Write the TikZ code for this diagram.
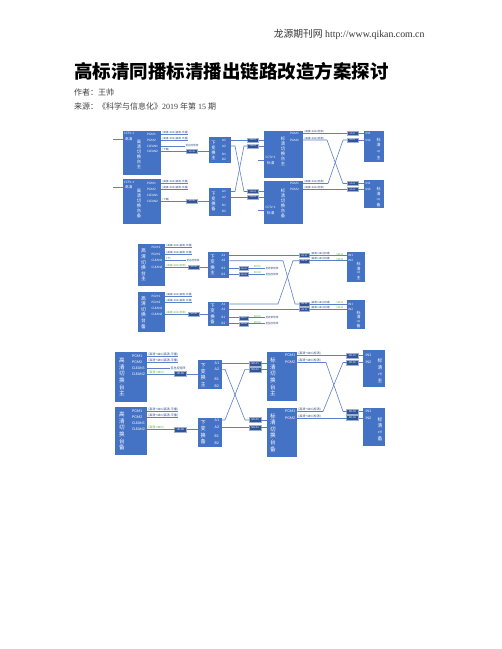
\documentclass[tikz,border=0pt]{standalone}
\usepackage{fontspec}
\setmainfont{Liberation Serif}
\newfontfamily\cjk{Noto Sans CJK SC}
\newfontfamily\lat{Carlito}
\definecolor{boxc}{HTML}{4472C4}
\definecolor{sbc}{HTML}{2F5597}
\definecolor{lnc}{HTML}{5B80C8}
\definecolor{txc}{HTML}{2E4A86}
\definecolor{grn}{HTML}{6AAA40}
\newcommand\mkbox[5]{%
  \pgfmathsetmacro\mkbw{#4-#2}%
  \pgfmathsetmacro\mkbh{#5-#3}%
  \node[bbox,minimum width=\mkbw pt,minimum height=\mkbh pt,anchor=north west] (#1) at (#2,#3) {};}
\tikzset{
 bbox/.style={fill=boxc,inner sep=0pt,outer sep=0pt},
 sbx/.style={fill=sbc,draw=white!55!sbc,line width=0.2pt,text=white,font=\lat\fontsize{2.3}{2.5}\selectfont,minimum width=11pt,minimum height=4pt,inner sep=0pt,outer sep=0pt},
 sbx3/.style={sbx,minimum width=12pt,minimum height=5pt,font=\lat\fontsize{2.8}{3}\selectfont},
 vt/.style={text=white,font=\cjk\fontsize{4.3}{5}\selectfont,align=center,inner sep=0pt},
 vtw/.style={text=white,font=\cjk\fontsize{3.6}{4}\selectfont,inner sep=0pt,anchor=west},
 tn/.style={text=white,font=\cjk\fontsize{2.4}{3}\selectfont,inner sep=0pt},
 pl/.style={text=white,font=\lat\fontsize{3.4}{4}\selectfont,inner sep=0pt,anchor=west},
 pl3/.style={pl,font=\lat\fontsize{4}{4.5}\selectfont},
 ln/.style={draw=lnc,line width=0.6pt},
 ll/.style={text=txc,font=\cjk\fontsize{2.6}{3}\selectfont,inner sep=0.2pt,anchor=south west},
 ll3/.style={ll,font=\cjk\fontsize{3}{3.4}\selectfont},
 gl/.style={ll,text=grn},
 gl3/.style={ll3,text=grn},
 et/.style={text=txc,font=\cjk\fontsize{2.6}{3}\selectfont,inner sep=0.3pt,anchor=west},
 et3/.style={et,font=\cjk\fontsize{3}{3.4}\selectfont},
}
\begin{document}
\begin{tikzpicture}[x=1pt,y=-1pt]
\useasboundingbox (0,0) rectangle (502,649);
\fill[white] (0,0) rectangle (502,649);

% ---------- page text ----------
\node[anchor=base east,font=\fontsize{9.8}{11}\selectfont,text=black!80] (hdr) at (428,37.5) {{\cjk 龙源期刊网} http://www.qikan.com.cn};
\node[anchor=base west,font=\cjk\bfseries\fontsize{18.5}{20}\selectfont,inner sep=0pt] (ttl) at (74,78.5) {高标清同播标清播出链路改造方案探讨};
\node[anchor=base west,font=\fontsize{8}{9}\selectfont,inner sep=0pt,text=black!75] (au) at (74,95.5) {{\cjk 作者：王帅}};
\node[anchor=base west,font=\fontsize{8}{9}\selectfont,inner sep=0pt,text=black!75] (src) at (74,109.5) {{\cjk 来源：《科学与信息化》}2019 {\cjk 年第} 15 {\cjk 期}};

% ================= Diagram 1 =================
\mkbox{hzA}{123}{131}{161}{175}
\node[pl] (hzAcc) at (124,133.2) {CCTV-1};
\node[vtw] (hzAhd) at (125,139) {高清};
\node[vt] (hzAv) at (139,154) {高\\清\\切\\换\\台\\主};
\node[pl] (hzAp1) at (147,134) {PGM1};
\node[pl] (hzAp2) at (147,140) {PGM2};
\node[pl] (hzAp3) at (147,146) {CLEAN1};
\node[pl] (hzAp4) at (147,151.5) {CLEAN2};

\mkbox{hzB}{123}{179}{161}{224}
\node[pl] (hzBcc) at (124,182) {CCTV-1};
\node[vtw] (hzBhd) at (125,187.5) {高清};
\node[vt] (hzBv) at (139,203) {高\\清\\切\\换\\台\\备};
\node[pl] (hzBp1) at (147,183) {PGM1};
\node[pl] (hzBp2) at (147,189) {PGM2};
\node[pl] (hzBp3) at (147,195) {CLEAN1};
\node[pl] (hzBp4) at (147,201) {CLEAN2};

\mkbox{xbA}{208.7}{137.3}{230.7}{163.3}
\node[vt] (xbAv) at (213.5,150.3) {下\\变\\换\\主};
\node[pl] (xbAa1) at (222,140) {A1};
\node[pl] (xbAa2) at (222,146) {A2};
\node[pl] (xbAb1) at (222,154) {B1};
\node[pl] (xbAb2) at (222,159.5) {B2};

\mkbox{xbB}{208.7}{188.3}{230.7}{215.7}
\node[vt] (xbBv) at (213.5,202) {下\\变\\换\\备};
\node[pl] (xbBa1) at (222,191.5) {A1};
\node[pl] (xbBa2) at (222,197) {A2};
\node[pl] (xbBb1) at (222,205.5) {B1};
\node[pl] (xbBb2) at (222,211.5) {B2};

\node[sbx] (sbA) at (192,151.5) {HD-SD};
\node[sbx] (sbB) at (192,201) {HD-SD};
\node[sbx] (sA1) at (253,140) {SDI-01};
\node[sbx] (sA2) at (253,146) {SDI-02};
\node[sbx] (sA3) at (253,191.5) {SDI-03};
\node[sbx] (sA4) at (253,197) {SDI-04};

\mkbox{bzA}{264}{131}{303}{178}
\node[vt] (bzAv) at (283,151) {标\\清\\切\\换\\台\\主};
\node[pl] (bzAp1) at (290,133.5) {PGM1};
\node[pl] (bzAp2) at (290,140) {PGM2};
\node[pl] (bzAcc) at (265.5,157) {CCTV-1};
\node[vtw] (bzAhd) at (267,162.8) {标清};

\mkbox{bzB}{264}{181}{303}{224}
\node[vt] (bzBv) at (283,203) {标\\清\\切\\换\\台\\备};
\node[pl] (bzBp1) at (290,183.5) {PGM1};
\node[pl] (bzBp2) at (290,189.5) {PGM2};
\node[pl] (bzBcc) at (265.5,207) {CCTV-1};
\node[vtw] (bzBhd) at (267,212.8) {标清};

\node[sbx] (gA1) at (352.5,133.5) {SD-01};
\node[sbx] (gA2) at (352.5,140) {SD-02};
\node[sbx] (gA3) at (352.5,183.5) {SD-03};
\node[sbx] (gA4) at (352.5,189.5) {SD-04};

\mkbox{bqA}{364}{131}{384}{162}
\node[pl] (bqAi1) at (365.5,133.5) {IN1};
\node[pl] (bqAi2) at (365.5,140) {IN2};
\node[vt,font=\cjk\fontsize{4}{4.6}\selectfont] (bqAv) at (378.5,142.5) {标\\清};
\node[tn] (bqAn) at (378.5,151.5) {1号};
\node[vt,font=\cjk\fontsize{4}{4.6}\selectfont] (bqAz) at (378.5,157.5) {主};

\mkbox{bqB}{364}{180}{384}{208}
\node[pl] (bqBi1) at (365.5,183.5) {IN1};
\node[pl] (bqBi2) at (365.5,189.5) {IN2};
\node[vt,font=\cjk\fontsize{4}{4.6}\selectfont] (bqBv) at (378.5,191.5) {标\\清};
\node[tn] (bqBn) at (378.5,199.5) {2号};
\node[vt,font=\cjk\fontsize{4}{4.6}\selectfont] (bqBz) at (378.5,205) {备};

% labels diagram 1
\node[ll] (hzAl1) at (162,134) {(高清+480i(高清-平播)};
\node[ll] (hzAl2) at (162,140) {(高清+480i(高清-平播)};
\node[et] (hzAl3) at (185,146) {至总控矩阵};
\node[ll] (hzAl4) at (162,151.5) {(下载)};
\node[ll] (hzBl1) at (162,183) {(高清+480i(高清-平播)};
\node[ll] (hzBl2) at (162,189) {(高清+480i(高清-平播)};
\node[ll] (hzBl4) at (162,201) {(下载)};
\node[ll] (bzAl1) at (304,133.5) {(高清+480i(标清)};
\node[ll] (bzAl2) at (304,140) {(高清+480i(标清)};
\node[ll] (bzBl1) at (304,183.5) {(高清+480i(标清)};
\node[ll] (bzBl2) at (304,189.5) {(高清+480i(标清)};

\coordinate (inA) at (113,139);
\coordinate (inB) at (113,187.5);
\coordinate (inC) at (258,160);
\coordinate (inD) at (258,210);
\draw[ln] (inA) -- (hzA.west |- hzAhd);
\draw[ln] (inB) -- (hzB.west |- hzBhd);
\draw[ln] (inC) -- (bzA.west |- inC);
\draw[ln] (inD) -- (bzB.west |- inD);
\draw[ln] (hzA.east |- hzAp1) -- (hzAl1.south east);
\draw[ln] (hzA.east |- hzAp2) -- (hzAl2.south east);
\draw[ln] (hzA.east |- hzAp3) -- (hzAl3.west);
\draw[ln] (hzA.east |- hzAp4) -- (sbA) -- (xbA.west |- sbA);
\draw[ln] (hzB.east |- hzBp1) -- (hzBl1.south east);
\draw[ln] (hzB.east |- hzBp2) -- (hzBl2.south east);
\draw[ln] (hzB.east |- hzBp4) -- (sbB) -- (xbB.west |- sbB);
\draw[ln] (xbA.east |- xbAa1) -- (sA1);
\draw[ln] (xbA.east |- xbAa2) -- (235,146) -- (244,191.5) -- (sA3);
\draw[ln] (xbB.east |- xbBa1) -- (235,191.5) -- (244,146) -- (sA2);
\draw[ln] (xbB.east |- xbBa2) -- (sA4);
\draw[ln] (sA1) -- (bzA.west |- sA1);
\draw[ln] (sA2) -- (bzA.west |- sA2);
\draw[ln] (sA3) -- (bzB.west |- sA3);
\draw[ln] (sA4) -- (bzB.west |- sA4);
\draw[ln] (bzA.east |- bzAp1) -- (gA1);
\draw[ln] (bzA.east |- bzAp2) -- (327,140) -- (343,183.5) -- (gA3);
\draw[ln] (bzB.east |- bzBp1) -- (328,183.5) -- (343,140) -- (gA2);
\draw[ln] (bzB.east |- bzBp2) -- (gA4);
\draw[ln] (gA1) -- (bqA.west |- gA1);
\draw[ln] (gA2) -- (bqA.west |- gA2);
\draw[ln] (gA3) -- (bqB.west |- gA3);
\draw[ln] (gA4) -- (bqB.west |- gA4);

% ================= Diagram 2 =================
\mkbox{hzC}{138.3}{244.3}{165}{285.7}
\node[vt,font=\cjk\fontsize{4.8}{5.6}\selectfont] (hzCv) at (143.5,265) {高\\清\\切\\换\\台\\主};
\node[pl] (hzCp1) at (151.5,247.5) {PGM1};
\node[pl] (hzCp2) at (151.5,254) {PGM2};
\node[pl] (hzCp3) at (151.5,260.7) {CLEAN1};
\node[pl] (hzCp4) at (151.5,267) {CLEAN2};

\mkbox{hzD}{138.3}{292.3}{165}{332.3}
\node[vt,font=\cjk\fontsize{4.8}{5.6}\selectfont] (hzDv) at (143.5,312.3) {高\\清\\切\\换\\台\\备};
\node[pl] (hzDp1) at (151.5,296) {PGM1};
\node[pl] (hzDp2) at (151.5,302) {PGM2};
\node[pl] (hzDp3) at (151.5,308.3) {CLEAN1};
\node[pl] (hzDp4) at (151.5,314) {CLEAN2};

\mkbox{xbC}{207.7}{252.3}{229.3}{277.7}
\node[vt,font=\cjk\fontsize{4.5}{5.5}\selectfont] (xbCv) at (212.5,265) {下\\变\\换\\主};
\node[pl] (xbCa1) at (221.5,255.5) {A1};
\node[pl] (xbCa2) at (221.5,260.7) {A2};
\node[pl] (xbCb1) at (221.5,268.3) {B1};
\node[pl] (xbCb2) at (221.5,274.3) {B2};

\mkbox{xbD}{207.7}{301.7}{229.3}{325.7}
\node[vt,font=\cjk\fontsize{4.5}{5.5}\selectfont] (xbDv) at (212.5,313.7) {下\\变\\换\\备};
\node[pl] (xbDa1) at (221.5,304) {A1};
\node[pl] (xbDa2) at (221.5,309.3) {A2};
\node[pl] (xbDb1) at (221.5,317.7) {B1};
\node[pl] (xbDb2) at (221.5,323.7) {B2};

\node[sbx] (sbC) at (194,267) {HD-SD};
\node[sbx] (sbD) at (194,314) {HD-SD};
\node[sbx,minimum width=9pt] (sC5) at (243.8,268.3) {SDI-05};
\node[sbx,minimum width=9pt] (sC6) at (243.8,274.3) {SDI-06};
\node[sbx,minimum width=9pt] (sD5) at (243.8,317.7) {SDI-07};
\node[sbx,minimum width=9pt] (sD6) at (243.8,323.7) {SDI-08};
\node[sbx,minimum width=10pt] (sC1) at (304.3,255.5) {SDI-01};
\node[sbx,minimum width=10pt] (sC2) at (304.3,260.7) {SDI-02};
\node[sbx,minimum width=10pt] (sC3) at (304.3,304) {SDI-03};
\node[sbx,minimum width=10pt] (sC4) at (304.3,309.3) {SDI-04};

\mkbox{bqC}{346.7}{252.3}{365.3}{281.7}
\node[pl] (bqCi1) at (348,255.5) {IN1};
\node[pl] (bqCi2) at (348,260.7) {IN2};
\node[vt,font=\cjk\fontsize{4}{4.5}\selectfont] (bqCv) at (358.5,266.5) {标\\清};
\node[tn] (bqCn) at (358.5,273) {1号};
\node[vt,font=\cjk\fontsize{4}{4.5}\selectfont] (bqCz) at (358.5,277.7) {主};

\mkbox{bqD}{346.7}{300}{365.3}{329}
\node[pl] (bqDi1) at (348,304) {IN1};
\node[pl] (bqDi2) at (348,309.3) {IN2};
\node[vt,font=\cjk\fontsize{4}{4.5}\selectfont] (bqDv) at (358.5,315.2) {标\\清};
\node[tn] (bqDn) at (358.5,321.7) {2号};
\node[vt,font=\cjk\fontsize{4}{4.5}\selectfont] (bqDz) at (358.5,326.2) {备};

% labels diagram 2
\node[ll] (hzCl1) at (166,247.5) {(高清+480i(高清-平播)};
\node[ll] (hzCl2) at (166,254) {(高清+480i(高清-平播)};
\node[ll] (hzCl3a) at (166,260.7) {(下)};
\node[et] (hzCl3) at (186,260.7) {至总控矩阵};
\node[gl] (hzCl4) at (166,267) {(高清+480i(标清)};
\node[ll] (hzDl1) at (166,296) {(高清+480i(高清-平播)};
\node[ll] (hzDl2) at (166,302) {(高清+480i(高清-平播)};
\node[gl] (hzDl4) at (166,314) {(高清+480i(标清)};
\node[gl] (gC5) at (253.5,268.3) {SDI01};
\node[gl] (gC6) at (253.5,274.3) {SDI02};
\node[gl] (gD5) at (253.5,317.7) {SDI01};
\node[gl] (gD6) at (253.5,323.7) {SDI02};
\node[et] (eC5) at (265,268.3) {至收录矩阵};
\node[et] (eC6) at (265,274.3) {至监控矩阵};
\node[et] (eD5) at (265,317.7) {至收录矩阵};
\node[et] (eD6) at (265,323.7) {至监控矩阵};
\node[ll] (tC1l) at (310.5,255.5) {(高清+480i(标清)};
\node[ll] (tC2l) at (310.5,260.7) {(高清+480i(标清)};
\node[ll] (tC3l) at (310.5,304) {(高清+480i(标清)};
\node[ll] (tC4l) at (310.5,309.3) {(高清+480i(标清)};
\node[gl] (tC1g) at (336,255.5) {SDI01};
\node[gl] (tC2g) at (336,260.7) {SDI02};
\node[gl] (tC3g) at (336,304) {SDI01};
\node[gl] (tC4g) at (336,309.3) {SDI02};

\draw[ln] (hzC.east |- hzCp1) -- (hzCl1.south east);
\draw[ln] (hzC.east |- hzCp2) -- (hzCl2.south east);
\draw[ln] (hzC.east |- hzCp3) -- (hzCl3.west);
\draw[ln] (hzC.east |- hzCp4) -- (sbC) -- (xbC.west |- sbC);
\draw[ln] (hzD.east |- hzDp1) -- (hzDl1.south east);
\draw[ln] (hzD.east |- hzDp2) -- (hzDl2.south east);
\draw[ln] (hzD.east |- hzDp4) -- (sbD) -- (xbD.west |- sbD);
\draw[ln] (xbC.east |- xbCb1) -- (sC5) -- (eC5.west);
\draw[ln] (xbC.east |- xbCb2) -- (sC6) -- (eC6.west);
\draw[ln] (xbD.east |- xbDb1) -- (sD5) -- (eD5.west);
\draw[ln] (xbD.east |- xbDb2) -- (sD6) -- (eD6.west);
\draw[ln] (xbC.east |- xbCa1) -- (sC1);
\draw[ln] (xbC.east |- xbCa2) -- (283,260.7) -- (295,304) -- (sC3);
\draw[ln] (xbD.east |- xbDa1) -- (278,304) -- (293,260.7) -- (sC2);
\draw[ln] (xbD.east |- xbDa2) -- (sC4);
\draw[ln] (sC1) -- (bqC.west |- sC1);
\draw[ln] (sC2) -- (bqC.west |- sC2);
\draw[ln] (sC3) -- (bqD.west |- sC3);
\draw[ln] (sC4) -- (bqD.west |- sC4);

% ================= Diagram 3 =================
\mkbox{hzE}{115}{352.3}{146.7}{401.7}
\node[vt,font=\cjk\fontsize{5.6}{6.6}\selectfont] (hzEv) at (121.8,377) {高\\清\\切\\换\\台\\主};
\node[pl3] (hzEp1) at (132,356) {PGM1};
\node[pl3] (hzEp2) at (132,362) {PGM2};
\node[pl3] (hzEp3) at (132,368) {CLEAN1};
\node[pl3] (hzEp4) at (132,374) {CLEAN2};

\mkbox{hzF}{115}{406.7}{146.7}{455}
\node[vt,font=\cjk\fontsize{5.6}{6.6}\selectfont] (hzFv) at (121.8,431) {高\\清\\切\\换\\台\\备};
\node[pl3] (hzFp1) at (132,411) {PGM1};
\node[pl3] (hzFp2) at (132,417) {PGM2};
\node[pl3] (hzFp3) at (132,423.3) {CLEAN1};
\node[pl3] (hzFp4) at (132,429.3) {CLEAN2};

\mkbox{xbE}{197.7}{360}{221.7}{389.3}
\node[vt,font=\cjk\fontsize{5.2}{6.3}\selectfont] (xbEv) at (203.3,374.7) {下\\变\\换\\主};
\node[pl3] (xbEa1) at (214.5,363.3) {A1};
\node[pl3] (xbEa2) at (214.5,369.3) {A2};
\node[pl3] (xbEb1) at (214.5,379.3) {B1};
\node[pl3] (xbEb2) at (214.5,385.7) {B2};

\mkbox{xbF}{197.7}{417.7}{221.7}{446.7}
\node[vt,font=\cjk\fontsize{5.2}{6.3}\selectfont] (xbFv) at (203.3,432.2) {下\\变\\换\\备};
\node[pl3] (xbFa1) at (214.5,420) {A1};
\node[pl3] (xbFa2) at (214.5,427.3) {A2};
\node[pl3] (xbFb1) at (214.5,436.7) {B1};
\node[pl3] (xbFb2) at (214.5,442.7) {B2};

\node[sbx3] (sbE) at (180.5,374) {HD-SD};
\node[sbx3] (sbF) at (180.5,429.3) {HD-SD};
\node[sbx3] (tE1) at (255,363.3) {SDI-01};
\node[sbx3] (tE2) at (255,369.3) {SDI-02};
\node[sbx3] (bE1) at (255,420) {SDI-03};
\node[sbx3] (bE2) at (255,427.3) {SDI-04};

\mkbox{bzE}{266.7}{352.3}{297.3}{400.7}
\node[vt,font=\cjk\fontsize{5.6}{6.6}\selectfont] (bzEv) at (273,377) {标\\清\\切\\换\\台\\主};
\node[pl3] (bzEp1) at (285,355.5) {PGM1};
\node[pl3] (bzEp2) at (285,362.5) {PGM2};

\mkbox{bzF}{266.7}{408.3}{297.3}{456.7}
\node[vt,font=\cjk\fontsize{5.6}{6.6}\selectfont] (bzFv) at (273,432.5) {标\\清\\切\\换\\台\\备};
\node[pl3] (bzFp1) at (285,411.5) {PGM1};
\node[pl3] (bzFp2) at (285,418) {PGM2};

\node[sbx3] (gT1) at (352.5,355.5) {SD-01};
\node[sbx3] (gT2) at (352.5,362.5) {SD-02};
\node[sbx3] (gB1) at (352.5,411.5) {SD-03};
\node[sbx3] (gB2) at (352.5,418) {SD-04};

\mkbox{bqE}{363.3}{350}{385}{386.5}
\node[pl3] (bqEi1) at (365.3,355.5) {IN1};
\node[pl3] (bqEi2) at (365.3,362.5) {IN2};
\node[vt,font=\cjk\fontsize{4.8}{6.5}\selectfont] (bqEv) at (380,364.2) {标\\清};
\node[tn,font=\cjk\fontsize{2.8}{3}\selectfont] (bqEn) at (380,374) {1号};
\node[vt,font=\cjk\fontsize{4.8}{6.5}\selectfont] (bqEz) at (380,380.5) {主};

\mkbox{bqF}{363.3}{408.3}{385}{446}
\node[pl3] (bqFi1) at (365.3,411.5) {IN1};
\node[pl3] (bqFi2) at (365.3,418) {IN2};
\node[vt,font=\cjk\fontsize{4.8}{6.5}\selectfont] (bqFv) at (380,422.5) {标\\清};
\node[tn,font=\cjk\fontsize{2.8}{3}\selectfont] (bqFn) at (380,432.3) {2号};
\node[vt,font=\cjk\fontsize{4.8}{6.5}\selectfont] (bqFz) at (380,438.8) {备};

% labels diagram 3
\node[ll3] (hzEl1) at (148,356) {(高清+480i(高清-平播)};
\node[ll3] (hzEl2) at (148,362) {(高清+480i(高清-平播)};
\node[et3] (hzEl3) at (170,368) {至总控矩阵};
\node[gl3] (hzEl4) at (148,374) {(高清+480i)};
\node[ll3] (hzFl1) at (148,411) {(高清+480i(高清-平播)};
\node[ll3] (hzFl2) at (148,417) {(高清+480i(高清-平播)};
\node[gl3] (hzFl4) at (148,429.3) {(高清+480i)};
\node[ll3] (bzEl1) at (298,355.5) {(高清+480i(标清)};
\node[ll3] (bzEl2) at (298,362.5) {(高清+480i(标清)};
\node[ll3] (bzFl1) at (298,411.5) {(高清+480i(标清)};
\node[ll3] (bzFl2) at (298,418) {(高清+480i(标清)};

\draw[ln] (hzE.east |- hzEp1) -- (hzEl1.south east);
\draw[ln] (hzE.east |- hzEp2) -- (hzEl2.south east);
\draw[ln] (hzE.east |- hzEp3) -- (hzEl3.west);
\draw[ln] (hzE.east |- hzEp4) -- (sbE) -- (xbE.west |- sbE);
\draw[ln] (hzF.east |- hzFp1) -- (hzFl1.south east);
\draw[ln] (hzF.east |- hzFp2) -- (hzFl2.south east);
\draw[ln] (hzF.east |- hzFp4) -- (sbF) -- (xbF.west |- sbF);
\draw[ln] (xbE.east |- xbEa1) -- (tE1);
\draw[ln] (xbE.east |- xbEa2) -- (225,369.3) -- (245,420) -- (bE1);
\draw[ln] (xbF.east |- xbFa1) -- (225,420) -- (245,369.3) -- (tE2);
\draw[ln] (xbF.east |- xbFa2) -- (bE2);
\draw[ln] (tE1) -- (bzE.west |- tE1);
\draw[ln] (tE2) -- (bzE.west |- tE2);
\draw[ln] (bE1) -- (bzF.west |- bE1);
\draw[ln] (bE2) -- (bzF.west |- bE2);
\draw[ln] (bzE.east |- bzEp1) -- (gT1);
\draw[ln] (bzE.east |- bzEp2) -- (326,362.5) -- (343,411.5) -- (gB1);
\draw[ln] (bzF.east |- bzFp1) -- (323,411.5) -- (343,362.5) -- (gT2);
\draw[ln] (bzF.east |- bzFp2) -- (gB2);
\draw[ln] (gT1) -- (bqE.west |- gT1);
\draw[ln] (gT2) -- (bqE.west |- gT2);
\draw[ln] (gB1) -- (bqF.west |- gB1);
\draw[ln] (gB2) -- (bqF.west |- gB2);
\end{tikzpicture}
\end{document}
